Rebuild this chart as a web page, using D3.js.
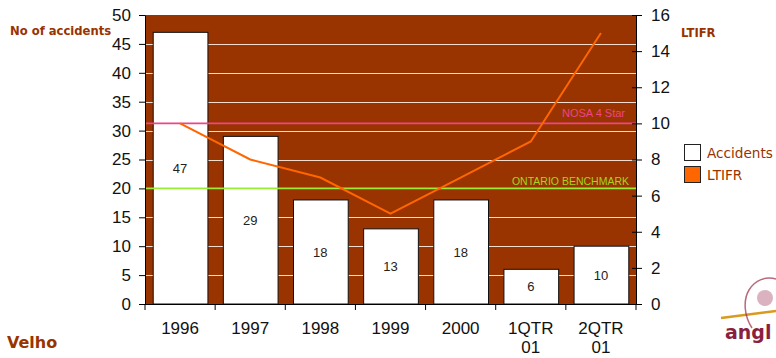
<!DOCTYPE html>
<html><head><meta charset="utf-8">
<script src="https://cdn.jsdelivr.net/npm/d3@7"></script>
<style>html,body{margin:0;padding:0;background:#fff;overflow:hidden}</style>
</head><body>
<svg id="c" width="776" height="358"></svg>
<script>
const categories = ["1996","1997","1998","1999","2000","1QTR 01","2QTR 01"];
const accidents = [47,29,18,13,18,6,10];
const ltifr = [10,8,7,5,7,9,15];
const leftTicks = [0,5,10,15,20,25,30,35,40,45,50];
const rightTicks = [0,2,4,6,8,10,12,14,16];
const nosaValue = 10;
const ontarioValue = 6.4;

const svg = d3.select("#c");
const L = 145, R = 636, T = 15, B = 304;
const brown = "#993300";

const x = d3.scaleBand().domain(categories).range([L, R]).paddingInner(0.22).paddingOuter(0.11);
const yL = d3.scaleLinear().domain([0,50]).range([B, T]);
const yR = d3.scaleLinear().domain([0,16]).range([B, T]);

// plot background
svg.append("rect").attr("x", L).attr("y", T).attr("width", R-L).attr("height", B-T).attr("fill", brown);

// gridlines
svg.append("g").selectAll("line").data(leftTicks.filter(d=>d>0 && d<50)).join("line")
  .attr("x1", L).attr("x2", R)
  .attr("y1", d=>Math.round(yL(d))+0.5).attr("y2", d=>Math.round(yL(d))+0.5)
  .attr("stroke", "#f4dccf").attr("stroke-width", 1);

// bars
svg.append("g").selectAll("rect").data(accidents).join("rect")
  .attr("x", (d,i)=>x(categories[i])+0.5)
  .attr("y", d=>yL(d))
  .attr("width", x.bandwidth())
  .attr("height", d=>B-yL(d))
  .attr("fill", "#fff").attr("stroke", "#111").attr("stroke-width", 1);

// bar labels
svg.append("g").selectAll("text").data(accidents).join("text")
  .attr("x", (d,i)=>x(categories[i])+x.bandwidth()/2)
  .attr("y", d=>(yL(d)+B)/2)
  .attr("dy", "0.35em")
  .attr("text-anchor", "middle")
  .attr("font-family", "Liberation Sans, Arial, sans-serif")
  .attr("font-size", 13).attr("fill", "#222")
  .text(d=>d);

// reference lines
svg.append("line").attr("x1", L).attr("x2", R).attr("y1", yR(nosaValue)).attr("y2", yR(nosaValue))
  .attr("stroke", "#ee4488").attr("stroke-width", 1.6);
svg.append("text").attr("x", 625).attr("y", yR(nosaValue)-6).attr("text-anchor", "end")
  .attr("font-family", "Liberation Sans, Arial, sans-serif").attr("font-size", 11)
  .attr("fill", "#ee4488").text("NOSA 4 Star");
svg.append("line").attr("x1", L).attr("x2", R).attr("y1", yR(ontarioValue)).attr("y2", yR(ontarioValue))
  .attr("stroke", "#99ee33").attr("stroke-width", 1.6);
svg.append("text").attr("x", 629).attr("y", yR(ontarioValue)-3).attr("text-anchor", "end")
  .attr("font-family", "Liberation Sans, Arial, sans-serif").attr("font-size", 10.5)
  .attr("fill", "#a5d421").text("ONTARIO BENCHMARK");

// LTIFR line
const line = d3.line().x((d,i)=>x(categories[i])+x.bandwidth()/2).y(d=>yR(d));
svg.append("path").datum(ltifr).attr("d", line)
  .attr("fill", "none").attr("stroke", "#ff6600").attr("stroke-width", 2);

// axes
const numFont = "Liberation Sans, Arial, sans-serif";
const gL = svg.append("g").attr("transform", `translate(${L},0)`)
  .call(d3.axisLeft(yL).tickValues(leftTicks).tickSize(6).tickPadding(8).tickSizeOuter(0));
const gR = svg.append("g").attr("transform", `translate(${R},0)`)
  .call(d3.axisRight(yR).tickValues(rightTicks).tickSize(6).tickPadding(9).tickSizeOuter(0));
gR.selectAll(".tick line").attr("x1", -4);
const gX = svg.append("g").attr("transform", `translate(0,${B})`)
  .call(d3.axisBottom(x).tickSize(0).tickSizeOuter(0).tickFormat(""));
[gL, gR, gX].forEach(g=>{
  g.selectAll("text").attr("font-family", numFont).attr("font-size", 17).attr("fill", "#111");
  g.selectAll("line,path").attr("stroke", "#000");
});
gX.select(".domain").attr("d", `M${L},0.5H${R}`);
// x ticks at band boundaries
const bounds = categories.map(c=>x(c)-x.step()*x.paddingInner()/2).concat([R]);
svg.append("g").selectAll("line").data(bounds).join("line")
  .attr("x1", d=>d).attr("x2", d=>d).attr("y1", B).attr("y2", B+6).attr("stroke", "#000");
// x labels
const xl = svg.append("g").selectAll("text").data(categories).join("text")
  .attr("x", c=>x(c)+x.bandwidth()/2).attr("y", 334)
  .attr("text-anchor", "middle").attr("font-family", numFont).attr("font-size", 17).attr("fill", "#111");
xl.each(function(c){
  const parts = c.split(" ");
  d3.select(this).selectAll("tspan").data(parts).join("tspan")
    .attr("x", x(c)+x.bandwidth()/2).attr("dy", (p,i)=>i===0?0:19).text(p=>p);
});

// titles
const titleFont = "DejaVu Sans, Verdana, sans-serif";
svg.append("text").attr("x", 10).attr("y", 35).attr("font-family", titleFont).attr("font-weight", "bold")
  .attr("font-size", 11.6).attr("fill", brown).text("No of accidents");
svg.append("text").attr("x", 681).attr("y", 37).attr("font-family", titleFont).attr("font-weight", "bold")
  .attr("font-size", 11.6).attr("fill", brown).text("LTIFR");
svg.append("text").attr("x", 7).attr("y", 348).attr("font-family", titleFont).attr("font-weight", "bold")
  .attr("font-size", 16).attr("fill", brown).text("Velho");

// legend
const legend = [{name:"Accidents", fill:"#fff"},{name:"LTIFR", fill:"#ff6600"}];
const lg = svg.append("g");
lg.selectAll("rect").data(legend).join("rect")
  .attr("x", 684.5).attr("y", (d,i)=>144.5+i*22).attr("width", 16).attr("height", 16)
  .attr("fill", d=>d.fill).attr("stroke", "#222");
lg.selectAll("text").data(legend).join("text")
  .attr("x", 707).attr("y", (d,i)=>158+i*22)
  .attr("font-family", titleFont).attr("font-size", 13.6).attr("fill", brown).text(d=>d.name);

// logo fragment
const logo = svg.append("g");
logo.append("path").attr("d", "M721,318 L776,311").attr("stroke", "#d99a1e").attr("stroke-width", 2.5).attr("fill","none");
logo.append("path").attr("d", "M752,328 C744,316 743,300 749,290 C755,280 766,276 776,279")
  .attr("stroke", "#9b2a45").attr("stroke-width", 1.5).attr("fill","none").attr("opacity",0.7);
logo.append("circle").attr("cx", 765).attr("cy", 298).attr("r", 8)
  .attr("fill", "#b05570").attr("opacity", 0.45);
logo.append("text").attr("x", 725).attr("y", 339).attr("font-family", titleFont).attr("font-weight","bold")
  .attr("font-size", 19).attr("fill", "#8b1f3f").text("angl");
</script>
</body></html>
